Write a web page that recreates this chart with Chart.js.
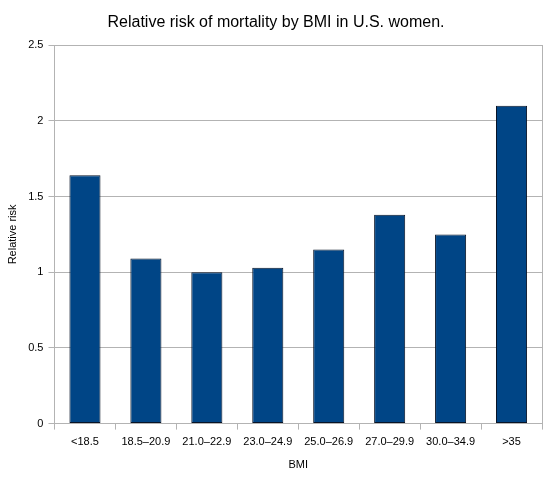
<!DOCTYPE html>
<html>
<head>
<meta charset="utf-8">
<script src="https://cdn.jsdelivr.net/npm/chart.js@4"></script>
<style>
  html, body { margin: 0; padding: 0; background: #fff; }
  #wrap { width: 552px; height: 484px; }
</style>
</head>
<body>
<div id="wrap"><canvas id="myChart"></canvas></div>
<script>
const bmiGroups = ["<18.5", "18.5–20.9", "21.0–22.9", "23.0–24.9", "25.0–26.9", "27.0–29.9", "30.0–34.9", ">35"];
const relRisk = [1.64, 1.09, 1.00, 1.03, 1.15, 1.38, 1.25, 2.10];
const yTicks = [0, 0.5, 1, 1.5, 2, 2.5];

Chart.defaults.font.family = "'Liberation Sans', Arial, sans-serif";
Chart.defaults.color = "#000";

new Chart("myChart", {
  type: "bar",
  data: {
    labels: bmiGroups,
    datasets: [{
      data: relRisk,
      backgroundColor: "#004586",
      borderColor: "#081427",
      borderWidth: 1,
      borderSkipped: false,
      barPercentage: 0.51,
      categoryPercentage: 1
    }]
  },
  options: {
    responsive: true,
    maintainAspectRatio: false,
    animation: false,
    layout: { padding: { top: 11, right: 2, left: 2, bottom: 8 } },
    plugins: {
      legend: { display: false },
      tooltip: { enabled: false },
      title: {
        display: true,
        text: "Relative risk of mortality by BMI in U.S. women.",
        font: { size: 16, weight: "normal" },
        padding: { top: 2, bottom: 13 }
      }
    },
    scales: {
      x: {
        grid: { offset: true, drawOnChartArea: false, drawTicks: true, tickLength: 6, color: "#b3b3b3" },
        border: { color: "#b3b3b3" },
        ticks: { font: { size: 11 }, padding: 6, maxRotation: 0, autoSkip: false },
        title: { display: true, text: "BMI", font: { size: 11 }, padding: { top: 4 } }
      },
      y: {
        min: 0, max: 2.5,
        afterBuildTicks: axis => { axis.ticks = yTicks.map(v => ({ value: v })); },
        grid: { color: "#b3b3b3", tickLength: 6 },
        border: { color: "#b3b3b3" },
        ticks: { font: { size: 11 }, padding: 5, callback: v => String(v) },
        title: { display: true, text: "Relative risk", font: { size: 11 }, padding: { bottom: 4 } }
      },
      yR: {
        position: "right",
        min: 0, max: 2.5,
        grid: { display: false },
        ticks: { display: false },
        border: { display: true, color: "#b3b3b3" }
      }
    }
  }
});
</script>
</body>
</html>
